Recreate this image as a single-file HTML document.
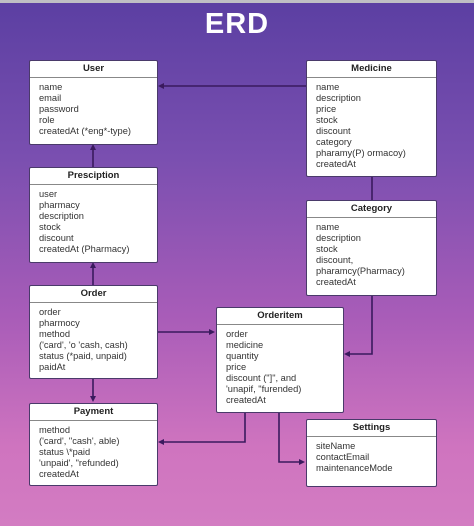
<!DOCTYPE html>
<html><head><style>
html,body{margin:0;padding:0}
body{width:474px;height:526px;position:relative;overflow:hidden;font-family:"Liberation Sans",sans-serif;
background:linear-gradient(180deg,#5b3fa2 0%,#7a4fb0 30%,#a85cb8 60%,#cf74bf 85%,#d37cc2 100%);}
.top{position:absolute;left:0;top:0;width:474px;height:3px;background:#bfbfc4}
h1{position:absolute;left:0;top:8px;width:474px;text-align:center;margin:0;color:#fff;font-size:29px;font-weight:bold;letter-spacing:1px}
.box{position:absolute;background:#fff;border:1px solid #4a3a6a;border-radius:2px;box-sizing:border-box}
.box .h{height:16px;line-height:16px;text-align:center;font-size:9.5px;font-weight:bold;color:#222;border-bottom:1px solid #888}
.box .b{padding:4px 0 0 9px;font-size:9.3px;line-height:11px;color:#333;white-space:nowrap}
svg{position:absolute;left:0;top:0}
</style></head><body>
<div class="top"></div>
<h1>ERD</h1>
<svg width="474" height="526">
<g stroke="#3a1a5e" stroke-width="1.6" fill="none">
<line x1="306" y1="86" x2="162" y2="86"/>
<line x1="93" y1="167" x2="93" y2="148"/>
<line x1="93" y1="285" x2="93" y2="266"/>
<line x1="372" y1="176" x2="372" y2="200"/>
<polyline points="372,295 372,354 348,354"/>
<line x1="157" y1="332" x2="211" y2="332"/>
<line x1="93" y1="378" x2="93" y2="398"/>
<polyline points="245,412 245,442 163,442"/>
<polyline points="279,412 279,462 301,462"/>
</g>
<g fill="#3a1a5e">
<polygon points="158,86 164,83 164,89"/>
<polygon points="93,144 90,150 96,150"/>
<polygon points="93,262 90,268 96,268"/>
<polygon points="344,354 350,351 350,357"/>
<polygon points="215,332 209,329 209,335"/>
<polygon points="93,402 90,396 96,396"/>
<polygon points="158,442 164,439 164,445"/>
<polygon points="305,462 299,459 299,465"/>
</g>
</svg>
<div class="box" style="left:29px;top:60px;width:129px;height:85px"><div class="h">User</div><div class="b">name<br>email<br>password<br>role<br>createdAt (*eng*-type)</div></div>
<div class="box" style="left:306px;top:60px;width:131px;height:117px"><div class="h">Medicine</div><div class="b">name<br>description<br>price<br>stock<br>discount<br>category<br>pharamy(P) ormacoy)<br>createdAt</div></div>
<div class="box" style="left:29px;top:167px;width:129px;height:96px"><div class="h">Presciption</div><div class="b">user<br>pharmacy<br>description<br>stock<br>discount<br>createdAt (Pharmacy)</div></div>
<div class="box" style="left:306px;top:200px;width:131px;height:96px"><div class="h">Category</div><div class="b">name<br>description<br>stock<br>discount,<br>pharamcy(Pharmacy)<br>createdAt</div></div>
<div class="box" style="left:29px;top:285px;width:129px;height:94px"><div class="h">Order</div><div class="b">order<br>pharmocy<br>method<br>('card', 'o 'cash, cash)<br>status (*paid, unpaid)<br>paidAt</div></div>
<div class="box" style="left:216px;top:307px;width:128px;height:106px"><div class="h">Orderitem</div><div class="b">order<br>medicine<br>quantity<br>price<br>discount ("]", and<br>'unapif, "furended)<br>createdAt</div></div>
<div class="box" style="left:29px;top:403px;width:129px;height:83px"><div class="h">Payment</div><div class="b">method<br>('card', "cash', able)<br>status \*paid<br>'unpaid', "refunded)<br>createdAt</div></div>
<div class="box" style="left:306px;top:419px;width:131px;height:68px"><div class="h">Settings</div><div class="b">siteName<br>contactEmail<br>maintenanceMode</div></div>
</body></html>
